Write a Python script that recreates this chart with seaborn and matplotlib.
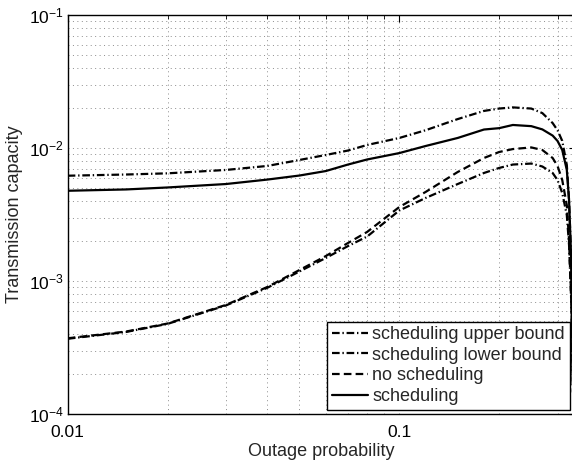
import numpy as np
import pandas as pd
import matplotlib
matplotlib.use("Agg")
import matplotlib.pyplot as plt
import matplotlib.ticker as mticker
import seaborn as sns

# Outage probability grid shared by all curves
outage = [0.01, 0.015, 0.02, 0.03, 0.04, 0.05, 0.06, 0.07, 0.08, 0.1, 0.12,
          0.15, 0.18, 0.2, 0.22, 0.25, 0.27, 0.29, 0.30, 0.31, 0.32, 0.325,
          0.33, 0.335]

# Transmission capacity for each scheme
sched_upper = [6.19e-3, 6.32e-3, 6.45e-3, 6.84e-3, 7.33e-3, 8.13e-3, 8.86e-3,
               9.57e-3, 1.054e-2, 1.19e-2, 1.36e-2, 1.65e-2, 1.90e-2, 1.98e-2,
               2.02e-2, 1.98e-2, 1.83e-2, 1.54e-2, 1.36e-2, 1.13e-2, 7.45e-3,
               4.06e-3, 1.44e-3, 1.0e-4]
sched_lower = [3.68e-4, 4.14e-4, 4.76e-4, 6.55e-4, 8.90e-4, 1.18e-3, 1.49e-3,
               1.83e-3, 2.16e-3, 3.39e-3, 4.21e-3, 5.36e-3, 6.49e-3, 7.08e-3,
               7.51e-3, 7.64e-3, 7.26e-3, 6.49e-3, 5.74e-3, 4.59e-3, 3.13e-3,
               1.87e-3, 7.0e-4, 1.0e-4]
no_sched = [3.71e-4, 4.17e-4, 4.79e-4, 6.61e-4, 9.02e-4, 1.21e-3, 1.54e-3,
            1.93e-3, 2.34e-3, 3.60e-3, 4.67e-3, 6.60e-3, 8.41e-3, 9.33e-3,
            9.82e-3, 1.01e-2, 9.66e-3, 8.41e-3, 7.33e-3, 5.74e-3, 3.72e-3,
            2.03e-3, 7.2e-4, 1.0e-4]
sched = [4.77e-3, 4.88e-3, 5.05e-3, 5.36e-3, 5.79e-3, 6.21e-3, 6.71e-3,
         7.51e-3, 8.20e-3, 9.16e-3, 1.035e-2, 1.19e-2, 1.377e-2, 1.41e-2,
         1.49e-2, 1.46e-2, 1.38e-2, 1.24e-2, 1.13e-2, 9.66e-3, 6.84e-3,
         4.06e-3, 1.44e-3, 1.0e-4]

series_names = ["scheduling upper bound", "scheduling lower bound",
                "no scheduling", "scheduling"]
x_tick_values = [0.01, 0.1]
x_tick_labels = ["0.01", "0.1"]

sns.set_style("white")
plt.rcParams["font.family"] = ["Liberation Sans", "DejaVu Sans"]
plt.rcParams["mathtext.fontset"] = "custom"
plt.rcParams["mathtext.rm"] = "Liberation Sans"
plt.rcParams["mathtext.it"] = "Liberation Sans:italic"
plt.rcParams["mathtext.bf"] = "Liberation Sans:bold"
plt.rcParams["lines.scale_dashes"] = False

fig = plt.figure(figsize=(5.72, 4.63), dpi=100)
ax = fig.add_axes([0.1184, 0.1058, 0.8878, 0.8618])

df = pd.DataFrame({
    "outage": outage * 4,
    "capacity": sched_upper + sched_lower + no_sched + sched,
    "series": np.repeat(series_names, len(outage)),
})

dash_styles = {
    "scheduling upper bound": (5.5, 2.0, 1.0, 2.0),
    "scheduling lower bound": (5.5, 2.0, 1.0, 2.0),
    "no scheduling": (5.5, 3.0),
    "scheduling": "",
}

sns.lineplot(data=df, x="outage", y="capacity", style="series",
             style_order=series_names, dashes=dash_styles, color="black",
             linewidth=1.6, sort=False, estimator=None, ax=ax)

ax.set_xscale("log")
ax.set_yscale("log")
ax.set_xlim(0.01, 0.34)
ax.set_ylim(1e-4, 1e-1)

ax.xaxis.set_major_locator(mticker.FixedLocator(x_tick_values))
ax.xaxis.set_major_formatter(mticker.FixedFormatter(x_tick_labels))
ax.xaxis.set_minor_locator(mticker.LogLocator(base=10, subs=np.arange(2, 10)))
ax.xaxis.set_minor_formatter(mticker.NullFormatter())
ax.yaxis.set_major_locator(mticker.LogLocator(base=10, numticks=10))
ax.yaxis.set_minor_locator(mticker.LogLocator(base=10, subs=np.arange(2, 10), numticks=20))
ax.yaxis.set_major_formatter(mticker.LogFormatterMathtext())
ax.yaxis.set_minor_formatter(mticker.NullFormatter())

ax.grid(True, which="both", color="0.55", linestyle=(0, (0.7, 2.5)), linewidth=0.7)
ax.set_axisbelow(True)

for s in ax.spines.values():
    s.set_color("black")
    s.set_linewidth(1.0)

ax.tick_params(which="both", direction="in", top=True, right=True,
               colors="black", labelsize=12.5)
ax.tick_params(which="major", length=5, width=0.8)
ax.tick_params(which="minor", length=3, width=0.6)
ax.tick_params(axis="x", which="major", pad=8)
ax.tick_params(axis="y", which="major", pad=3)

ax.set_xlabel("Outage probability", fontsize=13, labelpad=2)
ax.set_ylabel("Transmission capacity", fontsize=13, labelpad=4)

leg = ax.legend(loc="lower right", bbox_to_anchor=(569.5 / 572, 1 - 409.5 / 463),
                bbox_transform=fig.transFigure, borderaxespad=0,
                fontsize=13, handlelength=2.0, handletextpad=0.25,
                labelspacing=0.2, borderpad=0.25, fancybox=False,
                framealpha=1, edgecolor="black", title=None)
leg.get_frame().set_linewidth(1.0)

fig.savefig("out.png", dpi=100)
